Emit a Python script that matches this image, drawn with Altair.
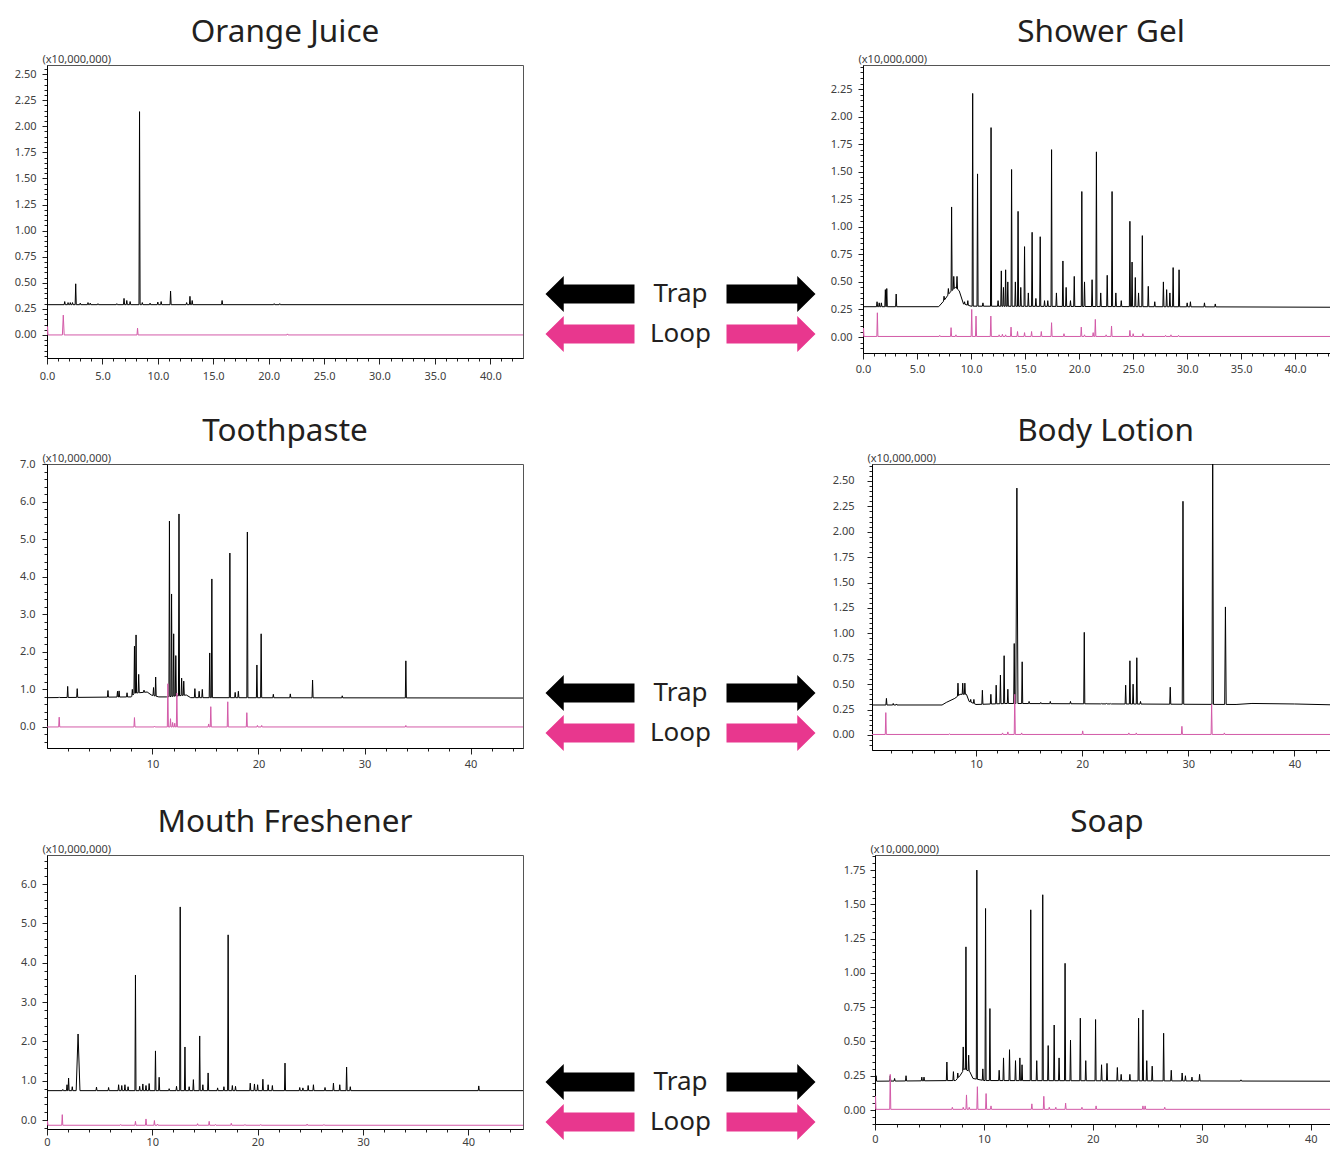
import altair as alt
import numpy as np
import pandas as pd

FONT = "Noto Sans"
TEXT = "#231F20"
AXIS_TXT = "#404040"
TRAP_COLOR = "#000000"
LOOP_COLOR = "#D35AA8"
ARROW_PINK = "#E8378E"
TITLE_OFFSET = 5

# ---------------- data: (retention time [min], intensity [x10,000,000], optional half width) -------------
# Orange Juice
OJ_TRAP_BASE = [(0.0, 0.29), (42.95, 0.29)]
OJ_TRAP_PEAKS = [(1.6, 0.32), (1.9, 0.31), (2.1, 0.31), (2.3, 0.31), (2.59, 0.49), (3.0, 0.305),
                 (3.7, 0.31), (3.9, 0.305), (4.6, 0.30), (6.3, 0.30), (6.95, 0.35), (7.2, 0.33),
                 (7.5, 0.32), (8.35, 2.14), (8.6, 0.31), (9.3, 0.305), (10.0, 0.315), (10.3, 0.32),
                 (11.15, 0.42), (12.6, 0.31), (12.9, 0.37), (13.1, 0.33), (15.8, 0.33), (20.5, 0.30),
                 (21.0, 0.30)]
OJ_LOOP_BASE = [(0.0, 0.0), (42.95, 0.0)]
OJ_LOOP_PEAKS = [(0.05, 0.08, 0.04), (1.47, 0.19, 0.08), (8.17, 0.065), (21.7, 0.01)]

# Shower Gel
SG_TRAP_BASE = [(0.0, 0.275), (7.0, 0.275), (7.5, 0.33), (8.0, 0.40), (8.55, 0.45), (8.9, 0.42),
                (9.3, 0.30), (10.0, 0.28), (44.05, 0.27)]
SG_TRAP_PEAKS = [(1.3, 0.32), (1.5, 0.31), (1.7, 0.31), (2.07, 0.43), (2.2, 0.44), (3.07, 0.39),
                 (7.5, 0.37), (7.9, 0.44), (8.2, 1.18), (8.4, 0.55), (8.7, 0.55), (9.4, 0.32),
                 (9.7, 0.33), (10.15, 2.21), (10.6, 1.48), (11.1, 0.31), (11.85, 1.90), (12.5, 0.33),
                 (12.8, 0.60), (13.0, 0.45), (13.2, 0.61), (13.4, 0.50), (13.75, 1.52), (14.1, 0.50),
                 (14.35, 1.14), (14.6, 0.45), (14.95, 0.82), (15.3, 0.40), (15.65, 0.95), (16.0, 0.35),
                 (16.4, 0.91), (16.8, 0.33), (17.1, 0.33), (17.45, 1.70), (17.9, 0.40), (18.5, 0.69),
                 (18.8, 0.45), (19.2, 0.33), (19.55, 0.55), (20.25, 1.32), (20.5, 0.50), (21.2, 0.52),
                 (21.6, 1.68), (22.0, 0.40), (22.6, 0.56), (23.05, 1.32), (23.4, 0.40), (23.9, 0.33),
                 (24.7, 1.05), (24.9, 0.68), (25.2, 0.54), (25.5, 0.40), (25.85, 0.92), (26.4, 0.46),
                 (27.0, 0.32), (27.8, 0.50), (28.1, 0.43), (28.4, 0.40), (28.7, 0.63), (29.25, 0.61),
                 (30.0, 0.31), (30.3, 0.32), (31.6, 0.31), (32.6, 0.30)]
SG_LOOP_BASE = [(0.0, 0.005), (44.05, 0.005)]
SG_LOOP_PEAKS = [(0.05, 0.08, 0.04), (1.33, 0.22), (7.1, 0.015), (8.15, 0.085), (8.6, 0.02), (10.06, 0.25),
                 (10.46, 0.19), (11.83, 0.19), (12.6, 0.02), (12.9, 0.025), (13.2, 0.02), (13.7, 0.09),
                 (14.3, 0.05), (14.95, 0.04), (15.6, 0.05), (16.5, 0.05), (17.45, 0.13), (18.6, 0.03),
                 (20.2, 0.09), (20.5, 0.02), (21.3, 0.04), (21.5, 0.16), (22.5, 0.02), (23.0, 0.10),
                 (24.7, 0.06), (25.0, 0.03), (25.9, 0.03), (28.0, 0.015), (28.5, 0.02), (29.2, 0.015)]

# Toothpaste
TP_TRAP_BASE = [(0.05, 0.78), (8.0, 0.80), (8.3, 0.90), (9.5, 0.93), (9.9, 0.85), (10.6, 0.80),
                (11.3, 0.80), (13.2, 0.85), (13.6, 0.78), (44.95, 0.77)]
TP_TRAP_PEAKS = [(1.2, 0.80), (2.0, 1.08), (2.9, 1.02), (5.8, 0.97), (6.7, 0.95), (6.85, 0.96),
                 (7.6, 0.91), (8.1, 1.0), (8.3, 2.15), (8.45, 2.45), (8.7, 1.4), (9.2, 0.98),
                 (10.1, 1.05), (10.3, 1.33), (11.6, 5.48), (11.8, 3.54), (12.0, 2.48), (12.2, 1.90),
                 (12.5, 5.67), (12.75, 1.30), (12.95, 1.22), (14.0, 1.02), (14.4, 0.95), (14.7, 1.0),
                 (15.4, 1.97), (15.6, 3.94), (17.3, 4.63), (17.8, 0.92), (18.1, 0.95), (18.95, 5.19),
                 (19.85, 1.65), (20.25, 2.48), (21.4, 0.87), (23.0, 0.88), (25.1, 1.25), (27.9, 0.83),
                 (33.9, 1.76)]
TP_LOOP_BASE = [(0.05, 0.0), (44.95, 0.0)]
TP_LOOP_PEAKS = [(1.2, 0.26), (8.3, 0.25), (10.2, 0.02), (11.45, 1.15), (11.7, 0.22), (11.9, 0.12),
                 (12.1, 0.10), (12.3, 0.90), (15.3, 0.08), (15.5, 0.54), (17.1, 0.67), (18.9, 0.38),
                 (19.9, 0.04), (20.3, 0.04), (33.9, 0.04)]

# Body Lotion
BL_TRAP_BASE = [(0.2, 0.295), (6.8, 0.295), (7.2, 0.32), (8.0, 0.36), (8.5, 0.40), (9.1, 0.40),
                (9.35, 0.33), (10.0, 0.30), (13.0, 0.31), (34.5, 0.30), (36.0, 0.31), (40.0, 0.305),
                (44.2, 0.295)]
BL_TRAP_PEAKS = [(1.56, 0.36), (2.2, 0.31), (2.5, 0.305), (8.3, 0.51), (8.75, 0.51), (8.95, 0.51),
                 (9.5, 0.35), (9.8, 0.35), (10.6, 0.44), (11.4, 0.40), (11.9, 0.49), (12.3, 0.59),
                 (12.65, 0.78), (13.0, 0.45), (13.6, 0.90), (13.85, 2.43, 0.1), (14.35, 0.72),
                 (15.0, 0.33), (16.1, 0.32), (17.0, 0.33), (18.9, 0.33), (20.2, 1.01), (21.8, 0.31),
                 (22.3, 0.31), (22.7, 0.31), (24.1, 0.49), (24.5, 0.73), (24.8, 0.50), (25.15, 0.76),
                 (25.5, 0.33), (28.3, 0.47), (29.5, 2.30, 0.07), (32.3, 2.75, 0.07), (33.5, 1.26, 0.07)]
BL_LOOP_BASE = [(0.2, 0.005), (44.2, 0.005)]
BL_LOOP_PEAKS = [(1.5, 0.22), (7.5, 0.01), (12.5, 0.02), (13.0, 0.03), (13.65, 0.40), (14.3, 0.02),
                 (20.05, 0.04), (24.4, 0.02), (25.1, 0.02), (29.4, 0.085), (32.2, 0.30), (33.4, 0.02)]

# Mouth Freshener
MF_TRAP_BASE = [(0.0, 0.75), (45.2, 0.75)]
MF_TRAP_PEAKS = [(1.5, 0.78), (1.9, 0.90), (2.05, 1.07), (2.4, 0.85), (2.95, 2.19, 0.18), (4.7, 0.84),
                 (5.85, 0.83), (6.8, 0.90), (7.1, 0.88), (7.4, 0.90), (7.7, 0.85), (8.4, 3.69),
                 (8.8, 0.86), (9.1, 0.92), (9.4, 0.88), (9.7, 0.93), (10.3, 1.76), (10.65, 1.09),
                 (11.6, 0.80), (12.3, 0.86), (12.65, 5.42), (13.1, 1.86), (13.5, 0.85), (13.9, 1.03),
                 (14.5, 2.14), (14.8, 0.90), (15.3, 1.20), (16.2, 0.82), (16.8, 0.85), (17.2, 4.71),
                 (17.6, 0.88), (17.9, 0.86), (19.3, 0.94), (19.7, 0.92), (20.0, 0.90), (20.5, 1.04),
                 (21.0, 0.90), (21.4, 0.88), (22.6, 1.45), (24.0, 0.83), (24.3, 0.82), (24.8, 0.88),
                 (25.3, 0.90), (26.4, 0.83), (27.2, 0.94), (27.8, 0.90), (28.45, 1.35), (28.8, 0.85),
                 (41.0, 0.87)]
MF_LOOP_BASE = [(0.0, -0.13), (45.2, -0.13)]
MF_LOOP_PEAKS = [(0.05, -0.02, 0.04), (1.45, 0.14), (7.0, -0.11), (8.4, -0.03), (9.4, 0.03),
                 (10.2, -0.01), (10.5, -0.10), (14.3, -0.09), (15.4, -0.03), (16.0, -0.11),
                 (17.5, -0.08), (18.8, -0.11), (20.3, -0.11), (24.7, -0.10), (26.3, -0.11)]

# Soap
SO_TRAP_BASE = [(0.0, 0.21), (7.4, 0.215), (7.8, 0.25), (8.2, 0.30), (8.7, 0.28), (9.0, 0.23),
                (10.0, 0.215), (42.6, 0.21)]
SO_TRAP_PEAKS = [(0.1, 0.25), (1.4, 0.25), (1.8, 0.23), (2.85, 0.25), (4.3, 0.24), (4.5, 0.24),
                 (6.6, 0.35), (7.2, 0.28), (7.6, 0.27), (8.1, 0.46), (8.35, 1.19), (8.6, 0.40),
                 (9.35, 1.75), (9.9, 0.30), (10.15, 1.47), (10.55, 0.74), (11.4, 0.29), (11.8, 0.38),
                 (12.35, 0.44), (12.9, 0.36), (13.3, 0.38), (13.5, 0.33), (14.3, 1.46), (14.85, 0.36),
                 (15.4, 1.57), (15.9, 0.47), (16.45, 0.62), (16.9, 0.38), (17.45, 1.07), (17.95, 0.51),
                 (18.85, 0.67), (19.35, 0.36), (20.25, 0.66), (20.8, 0.33), (21.3, 0.34), (22.25, 0.31),
                 (22.6, 0.26), (23.4, 0.26), (24.2, 0.67), (24.6, 0.73), (24.95, 0.36), (25.45, 0.32),
                 (26.5, 0.56), (27.2, 0.29), (28.2, 0.27), (28.5, 0.25), (29.1, 0.24), (29.8, 0.26),
                 (33.6, 0.22)]
SO_LOOP_BASE = [(0.0, 0.005), (42.6, 0.005)]
SO_LOOP_PEAKS = [(0.05, 0.10, 0.04), (1.4, 0.26), (7.1, 0.02), (8.1, 0.02), (8.4, 0.11), (8.65, 0.02),
                 (9.4, 0.17), (10.2, 0.12), (10.65, 0.03), (14.4, 0.045), (15.5, 0.10), (16.0, 0.02),
                 (16.6, 0.02), (17.5, 0.05), (19.0, 0.02), (20.3, 0.03), (24.6, 0.03), (24.8, 0.03),
                 (26.6, 0.02)]

MID_ROWS = ["Trap", "Loop"]
MID_SLOTS = ["left", "text", "right"]
AXIS_TITLE = "(x10,000,000)"

LEFT_ARROW = "M-1,0L-0.59,-0.405L-0.59,-0.216L1,-0.216L1,0.216L-0.59,0.216L-0.59,0.405Z"
RIGHT_ARROW = "M1,0L0.59,-0.405L0.59,-0.216L-1,-0.216L-1,0.216L0.59,0.216L0.59,0.405Z"


def trace(base, peaks, w=0.05):
    bt = [p[0] for p in base]
    bv = [p[1] for p in base]
    windows = []
    pts = []
    for pk in peaks:
        t, h = pk[0], pk[1]
        hw = pk[2] if len(pk) > 2 else w
        windows.append((t - hw, t + hw))
        pts.append((t - hw, float(np.interp(t - hw, bt, bv))))
        pts.append((t, h))
        pts.append((t + hw, float(np.interp(t + hw, bt, bv))))
    for b in base:
        if not any(lo <= b[0] <= hi for lo, hi in windows):
            pts.append(b)
    pts.sort(key=lambda p: p[0])
    df = pd.DataFrame(pts, columns=["t", "v"])
    df["i"] = range(len(df))
    return df


def ticks(lo, hi, step):
    n = int(round((hi - lo) / step))
    return [round(lo + k * step, 4) for k in range(n + 1)]


def is_major(step):
    return f"abs(datum.value / {step} - round(datum.value / {step})) < 0.001"


def panel(title, trap_b, trap_p, loop_b, loop_p, xdom, ydom, width, height,
          xt, xmaj, xfmt, xpad, yt, ymaj, yfmt, yext, ypad):
    df = pd.concat([trace(trap_b, trap_p).assign(trace="Trap"),
                    trace(loop_b, loop_p).assign(trace="Loop")], ignore_index=True)
    xaxis = alt.Axis(values=xt, title=None,
                     labelExpr=f"{is_major(xmaj)} ? format(datum.value, '{xfmt}') : ''",
                     tickSize={"condition": {"test": is_major(xmaj), "value": 6}, "value": 3},
                     labelFlush=False, labelOverlap=False, labelPadding=xpad)
    yaxis = alt.Axis(values=yt, title=AXIS_TITLE, titleAngle=0, titleAlign="left",
                     titleBaseline="alphabetic", titleX=-5, titleY=-3, titleFontSize=11,
                     titleFontWeight="normal", titleColor=AXIS_TXT, titleFont=FONT,
                     labelExpr=f"{is_major(ymaj)} ? format(datum.value, '{yfmt}') : ''",
                     tickSize={"condition": {"test": is_major(ymaj), "value": 5}, "value": 3},
                     labelOverlap=False, labelPadding=ypad, minExtent=yext)
    base = alt.Chart(df).encode(
        x=alt.X("t:Q", scale=alt.Scale(domain=xdom, nice=False, zero=False), axis=xaxis),
        y=alt.Y("v:Q", scale=alt.Scale(domain=ydom, nice=False, zero=False), axis=yaxis),
        order="i:Q",
    )
    trap_line = base.transform_filter("datum.trace == 'Trap'").mark_line(
        color=TRAP_COLOR, strokeWidth=1, clip=True)
    loop_line = base.transform_filter("datum.trace == 'Loop'").mark_line(
        color=LOOP_COLOR, strokeWidth=1, clip=True)
    return alt.layer(trap_line, loop_line).properties(
        width=width, height=height, title=alt.TitleParams(title, offset=TITLE_OFFSET))


mid_df = pd.DataFrame([(r, s) for r in MID_ROWS for s in MID_SLOTS], columns=["row", "slot"])


def middle(yrange, height):
    base = alt.Chart(mid_df).encode(
        x=alt.X("slot:N", scale=alt.Scale(type="point", domain=MID_SLOTS, range=[56, 237], padding=0),
                axis=None),
        y=alt.Y("row:N", scale=alt.Scale(type="point", domain=MID_ROWS, range=yrange, padding=0),
                axis=None),
        color=alt.Color("row:N", scale=alt.Scale(domain=MID_ROWS, range=[TRAP_COLOR, ARROW_PINK]),
                        legend=None),
    )
    left = base.transform_filter("datum.slot == 'left'").mark_point(
        shape=LEFT_ARROW, size=89 * 89, filled=True, opacity=1)
    right = base.transform_filter("datum.slot == 'right'").mark_point(
        shape=RIGHT_ARROW, size=89 * 89, filled=True, opacity=1)
    text = base.transform_filter("datum.slot == 'text'").mark_text(
        fontSize=26, font=FONT, baseline="middle").encode(text="row:N", color=alt.value(TEXT))
    return alt.layer(left, right, text).properties(
        width=282, height=height, title=alt.TitleParams(" ", offset=TITLE_OFFSET + 13),
        view=alt.ViewBackground(strokeOpacity=0))


oj = panel("Orange Juice", OJ_TRAP_BASE, OJ_TRAP_PEAKS, OJ_LOOP_BASE, OJ_LOOP_PEAKS,
           [0, 42.95], [-0.221, 2.587], 476, 293,
           ticks(0, 42, 1), 5, ".1f", 6.5, ticks(-0.2, 2.55, 0.05), 0.25, ".2f", 39, 6)
sg = panel("Shower Gel", SG_TRAP_BASE, SG_TRAP_PEAKS, SG_LOOP_BASE, SG_LOOP_PEAKS,
           [0, 44.05], [-0.145, 2.468], 476, 288,
           ticks(0, 44, 1), 5, ".1f", 4.5, ticks(-0.1, 2.45, 0.05), 0.25, ".2f", 36, 6)
tp = panel("Toothpaste", TP_TRAP_BASE, TP_TRAP_PEAKS, TP_LOOP_BASE, TP_LOOP_PEAKS,
           [0.05, 44.95], [-0.56, 7.0], 476, 284,
           ticks(2, 44, 2), 10, "d", 4.5, ticks(-0.4, 7.0, 0.2), 1, ".1f", 39, 7)
bl = panel("Body Lotion", BL_TRAP_BASE, BL_TRAP_PEAKS, BL_LOOP_BASE, BL_LOOP_PEAKS,
           [0.2, 44.2], [-0.148, 2.667], 467, 286,
           ticks(2, 44, 2), 10, "d", 2.5, ticks(-0.1, 2.65, 0.05), 0.25, ".2f", 45, 13)
mf = panel("Mouth Freshener", MF_TRAP_BASE, MF_TRAP_PEAKS, MF_LOOP_BASE, MF_LOOP_PEAKS,
           [0, 45.2], [-0.225, 6.74], 476, 274,
           ticks(0, 44, 2), 10, "d", 1, ticks(-0.2, 6.6, 0.2), 1, ".1f", 39, 6)
so = panel("Soap", SO_TRAP_BASE, SO_TRAP_PEAKS, SO_LOOP_BASE, SO_LOOP_PEAKS,
           [0, 42.6], [-0.102, 1.86], 464, 269,
           ticks(0, 42, 2), 10, "d", 3.5, ticks(-0.1, 1.85, 0.05), 0.25, ".2f", 48, 5)

# page area: 1322 x 1143 inside the 8px page margin; first plot origin at (39, 57)
chart = alt.concat(
    oj, middle([229, 269], 290), sg,
    tp, middle([228, 268], 309), bl,
    mf, middle([225, 265], 290), so,
    columns=3, spacing={"row": 33, "column": 10}, align="none", bounds="full",
).properties(
    autosize=alt.AutoSizeParams(type="none"),
    padding={"left": 39, "top": 57, "right": 1283, "bottom": 1086},
).configure_axis(
    domainColor="#000000", tickColor="#222222", labelColor=AXIS_TXT, labelFont=FONT,
    labelFontSize=11, grid=False, domainWidth=1, tickWidth=1,
).configure_title(
    font=FONT, fontSize=31.5, fontWeight="normal", color=TEXT, anchor="middle",
    frame="group", baseline="alphabetic",
).configure_view(stroke="#555555", strokeWidth=1)

chart.save("out.html", embed_options={"renderer": "svg", "actions": False})
